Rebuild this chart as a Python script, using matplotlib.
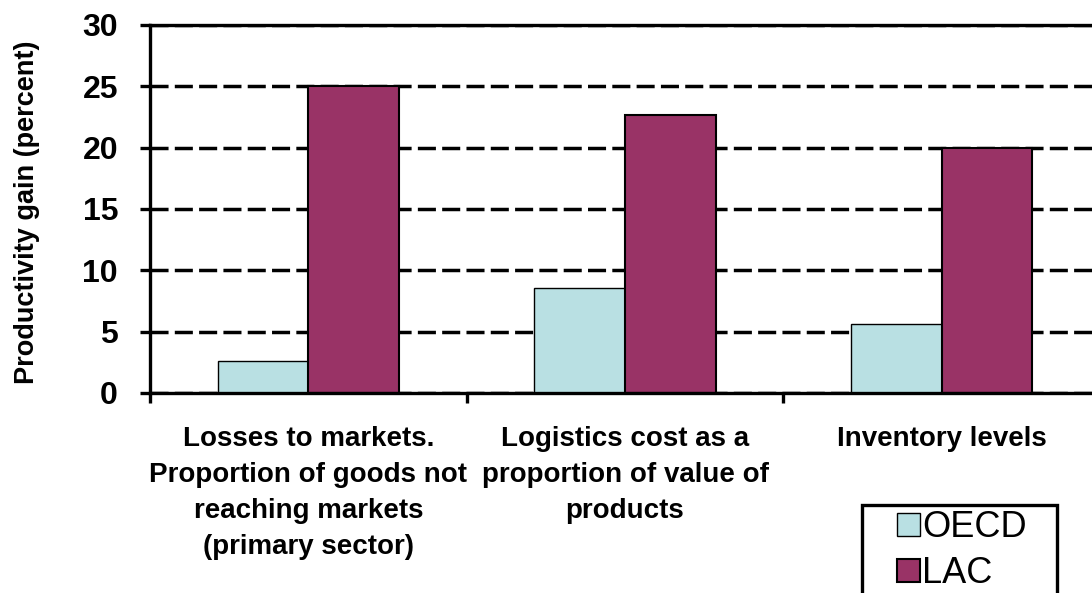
import matplotlib.pyplot as plt
from matplotlib.patches import Rectangle
import numpy as np

categories = ["Losses to markets.\nProportion of goods not\nreaching markets\n(primary sector)",
              "Logistics cost as a\nproportion of value of\nproducts",
              "Inventory levels"]
oecd = [2.6, 8.6, 5.6]
lac = [25.0, 22.7, 20.0]
series_names = ["OECD", "LAC"]

plt.rcParams['font.family'] = ['Liberation Sans', 'DejaVu Sans']

fig = plt.figure(figsize=(10.92, 5.93), dpi=100)
ax = fig.add_axes([150 / 1092, 1 - 393 / 593, 950 / 1092, 368 / 593])

x = np.arange(len(categories))
w = 0.286
ax.bar(x - w / 2, oecd, w, color="#b9e0e3", edgecolor="black", linewidth=1, label=series_names[0], zorder=2)
ax.bar(x + w / 2, lac, w, color="#993366", edgecolor="black", linewidth=1.5, label=series_names[1], zorder=2)

ax.set_xlim(-0.5, 2.5)
ax.set_ylim(0, 30)
ax.set_yticks(range(0, 31, 5))
ax.yaxis.grid(True, color="black", lw=2.5, linestyle=(0, (5.2, 1.8)))
ax.set_axisbelow(True)

# group separators as major ticks, category names on minor ticks
ax.set_xticks([-0.5, 0.5, 1.5, 2.5])
ax.set_xticklabels([])
ax.set_xticks(x, minor=True)
ax.set_xticklabels(categories, minor=True, fontsize=20, fontweight="bold", linespacing=1.5)
ax.tick_params(axis="x", which="minor", length=0, pad=24)
ax.tick_params(axis="both", which="major", direction="out", length=7, width=2.4)
ax.tick_params(axis="y", pad=16, labelsize=23)
for lab in ax.get_yticklabels():
    lab.set_fontweight("bold")

for s in ["left", "bottom", "top"]:
    ax.spines[s].set_linewidth(2.4)
ax.spines["right"].set_visible(False)

ax.set_ylabel("Productivity gain (percent)", fontsize=19.5, fontweight="bold", va="center")
ax.yaxis.set_label_coords(-0.129, 0.49)

handles, labels = ax.get_legend_handles_labels()
fig.legend(handles, labels, loc="upper left", bbox_to_anchor=(897 / 1092, 1 - 510 / 593),
           frameon=False, fontsize=26, handlelength=0.65, handleheight=0.6,
           handletextpad=0.05, borderpad=0, borderaxespad=0, labelspacing=0.3)
fig.add_artist(Rectangle((862 / 1092, -0.05), (1057 - 862) / 1092, 1 - 505 / 593 + 0.05,
                         transform=fig.transFigure, fill=False, lw=2.4, edgecolor="black"))

fig.savefig("out.png", dpi=100)
